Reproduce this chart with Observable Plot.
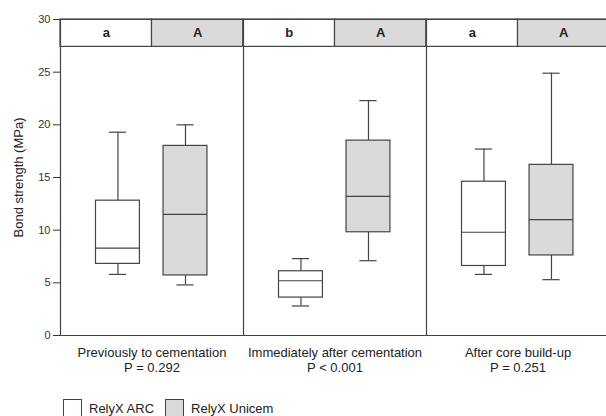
<!DOCTYPE html>
<html>
<head>
<meta charset="utf-8">
<script src="https://cdn.jsdelivr.net/npm/d3@7"></script>
<script src="https://cdn.jsdelivr.net/npm/@observablehq/plot@0.6"></script>
<style>
  html, body { margin: 0; padding: 0; background: #fff; overflow: hidden; }
  body { font-family: "Liberation Sans", Arial, sans-serif; color: #222; }
  #chart { width: 612px; }
  #chart svg { max-width: none !important; display: block; }
  #legend { display: flex; align-items: center; margin-left: 63px; margin-top: 7px; font-size: 13px; }
  .sw { width: 19px; height: 18px; box-sizing: border-box; border: 1px solid #444; display: inline-block; }
  .item { display: flex; align-items: center; }
  .item span.lab { margin-left: 7px; margin-right: 11px; }
</style>
</head>
<body>
<div id="chart"></div>
<div id="legend"></div>
<script>
// ---- data ----
const periods = ["Previously to cementation", "Immediately after cementation", "After core build-up"];
const pValues = ["P = 0.292", "P < 0.001", "P = 0.251"];
const cements = ["RelyX ARC", "RelyX Unicem"];
const arcLetters = ["a", "b", "a"];
const unicemLetters = ["A", "A", "A"];
const arcMin = [5.8, 2.8, 5.8];
const arcQ1 = [6.8, 3.6, 6.6];
const arcMedian = [8.3, 5.2, 9.8];
const arcQ3 = [12.8, 6.1, 14.6];
const arcMax = [19.3, 7.3, 17.7];
const unicemMin = [4.8, 7.1, 5.3];
const unicemQ1 = [5.7, 9.8, 7.6];
const unicemMedian = [11.5, 13.2, 11.0];
const unicemQ3 = [18.0, 18.5, 16.2];
const unicemMax = [20.0, 22.3, 24.9];
const yTicks = [0, 5, 10, 15, 20, 25, 30];
const yLabel = "Bond strength (MPa)";

// ---- layout helpers (positions within each period panel, in panel units) ----
const fills = ["#ffffff", "#dadada"];
const boxCenter = [0.314, 0.683];
const boxHalf = 0.12;
const capHalf = 0.047;
const stripBottom = 27.4, stripTop = 30;
const ink = "#444";

const stats = [
  {letters: arcLetters, min: arcMin, q1: arcQ1, med: arcMedian, q3: arcQ3, max: arcMax},
  {letters: unicemLetters, min: unicemMin, q1: unicemQ1, med: unicemMedian, q3: unicemQ3, max: unicemMax}
];
const rows = [];
periods.forEach((p, i) => {
  cements.forEach((c, j) => {
    const s = stats[j];
    rows.push({
      period: p, cement: c, pi: i, ci: j,
      letter: s.letters[i],
      min: s.min[i], q1: s.q1[i], med: s.med[i], q3: s.q3[i], max: s.max[i],
      cx: i + boxCenter[j]
    });
  });
});
const panelBounds = d3.range(periods.length + 1);

const chart = Plot.plot({
  width: 612,
  height: 392,
  marginLeft: 60,
  marginRight: 3,
  marginTop: 19,
  marginBottom: 57,
  style: {fontFamily: "'Liberation Sans', Arial, sans-serif", fontSize: "11px", color: "#333", background: "#fff", maxWidth: "none"},
  x: {domain: [0, periods.length], axis: null},
  y: {domain: [0, 30], ticks: yTicks, tickSize: 7, tickPadding: 3, label: null},
  marks: [
    // strip header cells
    Plot.rect(rows, {x1: d => d.pi + d.ci / 2, x2: d => d.pi + (d.ci + 1) / 2, y1: stripBottom, y2: stripTop,
      fill: d => fills[d.ci], stroke: ink, strokeWidth: 1.2}),
    Plot.text(rows, {x: d => d.pi + (d.ci + 0.5) / 2, y: (stripBottom + stripTop) / 2, text: "letter",
      fontWeight: "bold", fontSize: 13, fill: "#222"}),
    // panel separators and frame lines
    Plot.ruleX(panelBounds, {x: d => d, y1: 0, y2: 30, stroke: ink, strokeWidth: 1.2}),
    Plot.ruleY([0, 30], {y: d => d, stroke: ink, strokeWidth: 1.2}),
    // whiskers
    Plot.ruleX(rows, {x: "cx", y1: "q3", y2: "max", stroke: ink, strokeWidth: 1.2}),
    Plot.ruleX(rows, {x: "cx", y1: "min", y2: "q1", stroke: ink, strokeWidth: 1.2}),
    Plot.ruleY(rows, {y: "max", x1: d => d.cx - capHalf, x2: d => d.cx + capHalf, stroke: ink, strokeWidth: 1.2}),
    Plot.ruleY(rows, {y: "min", x1: d => d.cx - capHalf, x2: d => d.cx + capHalf, stroke: ink, strokeWidth: 1.2}),
    // boxes
    Plot.rect(rows, {x1: d => d.cx - boxHalf, x2: d => d.cx + boxHalf, y1: "q1", y2: "q3",
      fill: d => fills[d.ci], stroke: ink, strokeWidth: 1.2}),
    Plot.ruleY(rows, {y: "med", x1: d => d.cx - boxHalf, x2: d => d.cx + boxHalf, stroke: ink, strokeWidth: 1.2}),
    // period labels
    Plot.text(periods, {x: (d, i) => i + 0.5, y: 0, text: d => d, dy: 17, fontSize: 13, fill: "#222"}),
    Plot.text(pValues, {x: (d, i) => i + 0.5, y: 0, text: d => d, dy: 32, fontSize: 13, fill: "#222"}),
    // y label
    Plot.text([yLabel], {text: d => d, frameAnchor: "left", textAnchor: "middle", dx: -42, rotate: -90, fontSize: 13, fill: "#222"})
  ]
});
document.getElementById("chart").appendChild(chart);

const legend = document.getElementById("legend");
cements.forEach((c, j) => {
  const item = document.createElement("div");
  item.className = "item";
  const sw = document.createElement("span");
  sw.className = "sw";
  sw.style.background = fills[j];
  const lab = document.createElement("span");
  lab.className = "lab";
  lab.textContent = c;
  item.appendChild(sw);
  item.appendChild(lab);
  legend.appendChild(item);
});
</script>
</body>
</html>
